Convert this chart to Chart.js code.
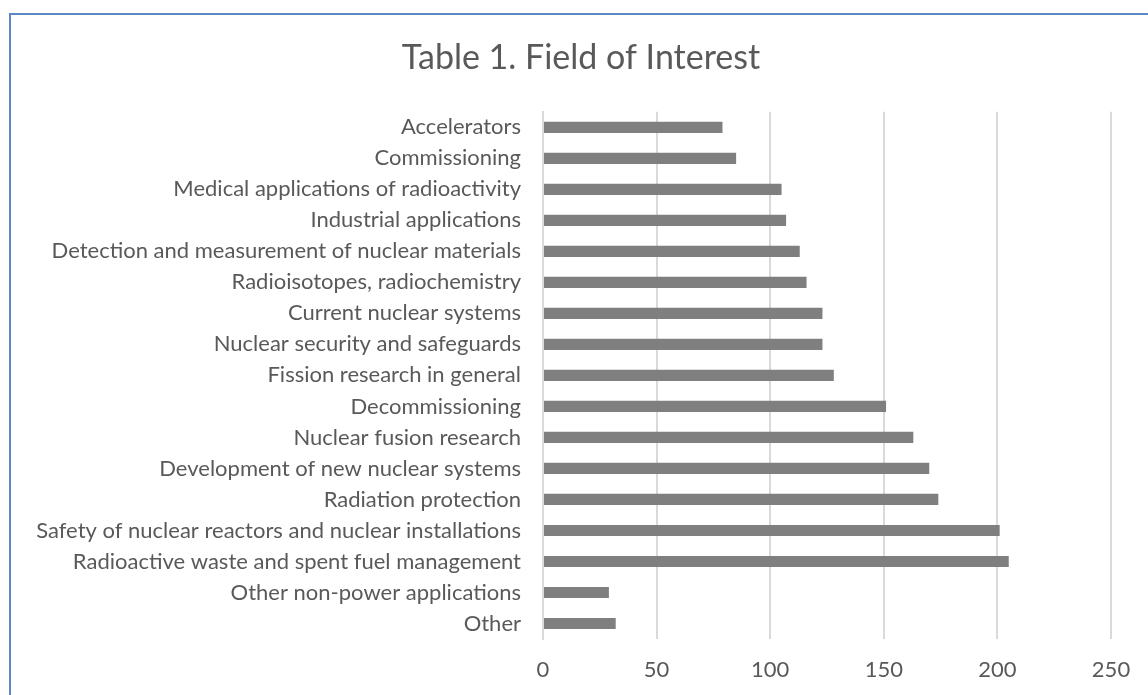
<!DOCTYPE html>
<html>
<head>
<meta charset="utf-8">
<script src="https://cdn.jsdelivr.net/npm/chart.js@4/dist/chart.umd.min.js"></script>
<style>
  html, body { margin: 0; padding: 0; background: #ffffff; overflow: hidden; }
  #wrap { position: relative; width: 1148px; height: 695px; overflow: hidden; }
  #frame { position: absolute; left: 9px; top: 13px; width: 1200px; height: 760px;
           border: 2px solid #5b87c5; box-sizing: border-box; }
  canvas { position: absolute; left: 0; top: 0; }
</style>
</head>
<body>
<div id="wrap">
  <div id="frame"></div>
  <canvas id="c" width="1162" height="695"></canvas>
</div>
<script>
const titleText = "Table 1. Field of Interest";
const categories = [
  "Accelerators",
  "Commissioning",
  "Medical applications of radioactivity",
  "Industrial applications",
  "Detection and measurement of nuclear materials",
  "Radioisotopes, radiochemistry",
  "Current nuclear systems",
  "Nuclear security and safeguards",
  "Fission research in general",
  "Decommissioning",
  "Nuclear fusion research",
  "Development of new nuclear systems",
  "Radiation protection",
  "Safety of nuclear reactors and nuclear installations",
  "Radioactive waste and spent fuel management",
  "Other non-power applications",
  "Other"
];
const counts = [79, 85, 105, 107, 113, 116, 123, 123, 128, 151, 163, 170, 174, 201, 205, 29, 32];
const xTicks = [0, 50, 100, 150, 200, 250];

const FONT = "Lato, 'Open Sans', sans-serif";
const TXT = "#595959";

new Chart(document.getElementById("c"), {
  type: "bar",
  data: {
    labels: categories,
    datasets: [{
      data: counts,
      backgroundColor: "#7f7f7f",
      borderWidth: 0,
      barPercentage: 0.36,
      categoryPercentage: 1.0
    }]
  },
  options: {
    indexAxis: "y",
    responsive: false,
    animation: false,
    devicePixelRatio: 1,
    layout: { padding: { left: 0, right: 0, top: 0, bottom: 0 } },
    plugins: {
      legend: { display: false },
      tooltip: { enabled: false },
      title: {
        display: true,
        text: titleText,
        color: TXT,
        font: { family: FONT, size: 34, weight: "normal" },
        padding: { top: 38, bottom: 33 }
      }
    },
    scales: {
      x: {
        min: 0, max: 250,
        afterBuildTicks: (s) => { s.ticks = xTicks.map(v => ({ value: v })); },
        grid: { color: "#d9d9d9", lineWidth: 2, drawTicks: false },
        border: { display: false },
        ticks: { color: TXT, font: { family: FONT, size: 22 }, padding: 18 },
        afterFit: (s) => { s.height = 56; }
      },
      y: {
        grid: { display: false, drawTicks: false },
        border: { display: true, color: "#d9d9d9", width: 2 },
        ticks: { color: TXT, font: { family: FONT, size: 22 }, padding: 22, autoSkip: false },
        afterFit: (s) => { s.width = 543; }
      },
      spacer: {
        type: "linear",
        position: "right",
        display: true,
        grid: { display: false, drawTicks: false },
        border: { display: false },
        ticks: { display: false },
        afterFit: (s) => { s.width = 51; }
      }
    }
  }
});
</script>
</body>
</html>
